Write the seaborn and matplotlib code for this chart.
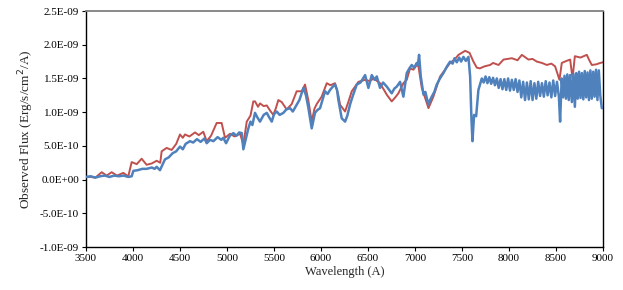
import matplotlib
matplotlib.use("Agg")
import matplotlib.pyplot as plt
import seaborn as sns
import pandas as pd

# Model/reference spectrum (red), flux in units of 1e-10 erg/s/cm^2/A
red_wl = [3500, 3550, 3600, 3667, 3720, 3773, 3830, 3897, 3950, 3986, 4040, 4092,
          4145, 4200, 4252, 4290, 4305, 4358, 4411, 4460, 4500, 4530, 4553, 4600,
          4660, 4700, 4748, 4784, 4830, 4890, 4943, 4979, 5032, 5080, 5139, 5174,
          5210, 5250, 5280, 5298, 5330, 5351, 5390, 5423, 5460, 5493, 5520, 5546,
          5582, 5635, 5688, 5741, 5795, 5830, 5866, 5901, 5930, 5954, 6007, 6061,
          6100, 6149, 6180, 6203, 6256, 6290, 6327, 6398, 6469, 6520, 6558, 6628,
          6699, 6752, 6790, 6823, 6876, 6912, 6947, 6983, 7019, 7036, 7072, 7110,
          7143, 7195, 7267, 7320, 7373, 7420, 7462, 7533, 7580, 7621, 7657, 7690,
          7740, 7799, 7830, 7888, 7941, 8030, 8090, 8136, 8207, 8250, 8296, 8350,
          8402, 8450, 8490, 8536, 8561, 8610, 8650, 8675, 8700, 8760, 8827, 8850,
          8880, 8930, 8969, 9000]
red_flux = [0.4, 0.4, 0.3, 1.1, 0.6, 1.1, 0.6, 1.0, 0.5, 2.6, 2.3, 3.1,
            2.2, 2.4, 2.8, 2.5, 4.2, 4.7, 4.4, 5.3, 6.7, 6.2, 6.7, 6.4,
            7.0, 6.6, 7.1, 5.7, 6.5, 8.4, 8.4, 6.2, 6.8, 6.4, 6.8, 5.2,
            8.6, 9.5, 11.6, 11.6, 10.8, 11.3, 10.9, 11.0, 10.2, 9.6, 10.6, 11.8,
            11.5, 10.4, 11.2, 13.1, 13.1, 14.1, 11.7, 8.6, 10.5, 11.2, 12.3, 14.3,
            14.0, 14.3, 12.8, 11.1, 10.1, 11.5, 13.1, 14.5, 14.8, 14.6, 15.0, 14.3,
            12.6, 11.6, 12.2, 12.8, 14.3, 14.8, 16.5, 16.3, 17.0, 16.8, 13.6, 12.0,
            10.6, 12.3, 15.3, 16.3, 17.3, 17.8, 18.5, 19.1, 18.8, 17.5, 16.6, 16.5,
            16.8, 17.0, 17.3, 17.0, 17.8, 18.0, 17.7, 18.5, 17.8, 17.9, 17.5, 17.3,
            17.0, 17.2, 16.8, 14.8, 17.3, 17.6, 17.8, 15.0, 18.3, 18.1, 18.5, 17.8,
            17.0, 17.1, 17.3, 17.4]

# Observed spectrum (blue), flux in units of 1e-10 erg/s/cm^2/A
blue_wl = [3500, 3550, 3600, 3650, 3700, 3750, 3800, 3850, 3900, 3950, 3986, 4004,
           4050, 4100, 4145, 4200, 4230, 4252, 4287, 4340, 4380, 4420, 4460, 4500,
           4530, 4560, 4606, 4640, 4680, 4720, 4760, 4784, 4820, 4855, 4900, 4940,
           4961, 4990, 5030, 5068, 5100, 5130, 5157, 5174, 5200, 5227, 5250, 5270,
           5298, 5320, 5351, 5390, 5423, 5450, 5476, 5500, 5529, 5560, 5600, 5630,
           5670, 5700, 5741, 5770, 5813, 5840, 5866, 5901, 5936, 5960, 5990, 6020,
           6043, 6070, 6096, 6120, 6149, 6170, 6185, 6220, 6256, 6280, 6310, 6340,
           6380, 6420, 6469, 6504, 6540, 6570, 6593, 6628, 6660, 6699, 6730, 6752,
           6780, 6806, 6841, 6876, 6912, 6940, 6965, 6990, 7019, 7030, 7043, 7061,
           7090, 7110, 7125, 7143, 7160, 7178, 7205, 7231, 7265, 7302, 7340, 7373,
           7400, 7420, 7444, 7470, 7490, 7515, 7540, 7568, 7586, 7600, 7611, 7628,
           7650, 7674, 7710,
           7730, 7750, 7770, 7790, 7810, 7830, 7850, 7870, 7890, 7910, 7930, 7950,
           7970, 7990, 8010, 8030, 8050, 8070, 8090, 8110, 8130, 8150, 8170, 8190,
           8210, 8230, 8250, 8270, 8290, 8310, 8330, 8350, 8370, 8390, 8410, 8430,
           8450, 8470, 8490, 8510, 8530, 8543, 8560, 8575, 8590, 8605, 8620, 8635,
           8650, 8668, 8685, 8700, 8715, 8730, 8745, 8760, 8775, 8790, 8805, 8820,
           8835, 8850, 8865, 8880, 8895, 8910, 8925, 8940, 8955, 8970, 8987, 9000]
blue_flux = [0.4, 0.5, 0.3, 0.5, 0.6, 0.4, 0.6, 0.5, 0.6, 0.4, 0.5, 1.3,
             1.4, 1.6, 1.6, 1.8, 1.6, 1.9, 1.4, 3.0, 3.3, 3.9, 4.2, 4.9,
             4.5, 5.3, 5.7, 5.5, 6.0, 5.6, 6.1, 5.4, 5.9, 5.7, 6.3, 5.9,
             6.2, 5.4, 6.5, 6.9, 6.5, 7.0, 6.9, 4.5, 6.0, 7.6, 8.6, 8.1,
             9.9, 9.3, 8.6, 9.6, 9.9, 9.2, 8.6, 9.7, 10.1, 9.6, 9.9, 10.4,
             10.6, 10.1, 11.1, 11.8, 13.6, 12.5, 10.6, 7.6, 9.9, 10.3, 10.6, 12.0,
             13.1, 12.7, 13.3, 13.7, 14.1, 13.3, 11.8, 9.1, 8.6, 9.5, 11.2, 12.5,
             14.1, 14.4, 15.5, 13.6, 15.5, 14.8, 15.3, 13.6, 14.4, 13.8, 13.2, 12.8,
             13.5, 13.8, 14.5, 12.3, 15.8, 16.5, 17.0, 16.6, 17.3, 17.0, 18.5, 15.3,
             12.6, 13.0, 12.1, 11.1, 11.8, 12.3, 13.0, 14.1, 15.0, 15.8, 16.8, 17.5,
             17.2, 18.0, 17.4, 18.1, 17.5, 18.2, 17.6, 18.2, 15.3, 9.0, 5.7, 9.6,
             9.4, 13.3, 15.0,
             14.4, 15.3, 14.3, 15.2, 14.2, 15.1, 14.0, 15.0, 13.6, 14.9, 13.4, 14.9,
             13.3, 15.0, 13.2, 14.8, 13.3, 14.9, 13.0, 14.7, 12.2, 14.5, 11.8, 14.4,
             11.9, 14.6, 11.8, 14.3, 12.0, 14.5, 12.4, 14.3, 12.3, 14.6, 12.5, 14.4,
             12.2, 14.7, 12.4, 14.5, 12.3, 8.6, 15.0, 12.2, 15.4, 12.0, 15.6, 11.8,
             15.5, 11.5, 15.7, 10.8, 15.8, 12.0, 16.0, 12.1, 15.8, 11.9, 16.1, 12.2,
             15.9, 11.8, 16.2, 12.0, 16.0, 12.3, 16.3, 11.8, 16.2, 12.5, 10.6, 10.6]

y_ticks = [-1.0e-9, -0.5e-9, 0.0, 0.5e-9, 1.0e-9, 1.5e-9, 2.0e-9, 2.5e-9]
y_tick_labels = ["-1.0E-09", "-5.0E-10", "0.0E+00", "5.0E-10",
                 "1.0E-09", "1.5E-09", "2.0E-09", "2.5E-09"]
x_ticks = [3500, 4000, 4500, 5000, 5500, 6000, 6500, 7000, 7500, 8000, 8500, 9000]

sns.set_style("white")
plt.rcParams['font.family'] = ['Liberation Serif', 'DejaVu Serif']

red_df = pd.DataFrame({"wl": red_wl, "flux": [v * 1e-10 for v in red_flux]})
blue_df = pd.DataFrame({"wl": blue_wl, "flux": [v * 1e-10 for v in blue_flux]})

fig = plt.figure(figsize=(6.23, 2.90), dpi=100)
ax = fig.add_axes([0.138, 0.148, 0.830, 0.814])

sns.lineplot(data=red_df, x="wl", y="flux", ax=ax, color="#C0504D",
             linewidth=1.4, estimator=None, sort=False, zorder=2)
sns.lineplot(data=blue_df, x="wl", y="flux", ax=ax, color="#4F81BD",
             linewidth=1.8, estimator=None, sort=False, zorder=3)

ax.set_xlim(3500, 9000)
ax.set_ylim(-1.0e-9, 2.5e-9)
ax.set_xticks(x_ticks)
ax.set_xticklabels([str(t) for t in x_ticks])
ax.set_yticks(y_ticks)
ax.set_yticklabels(y_tick_labels)
ax.tick_params(axis="both", which="major", labelsize=8, direction="out",
               length=3, width=0.8, colors="black", pad=2)
ax.tick_params(axis="x", bottom=True)
ax.tick_params(axis="y", left=True)

ax.set_xlabel("Wavelength (A)", fontsize=9, labelpad=2)
ax.set_ylabel("Observed Flux (Erg/s/cm$^2$/A)", fontsize=9.5, labelpad=3)

for side in ["left", "bottom", "right"]:
    ax.spines[side].set_visible(True)
    ax.spines[side].set_color("black")
    ax.spines[side].set_linewidth(1.0)
ax.spines["top"].set_visible(True)
ax.spines["top"].set_color("#808080")
ax.spines["top"].set_linewidth(1.3)
ax.grid(False)

fig.savefig("out.png", dpi=100)
